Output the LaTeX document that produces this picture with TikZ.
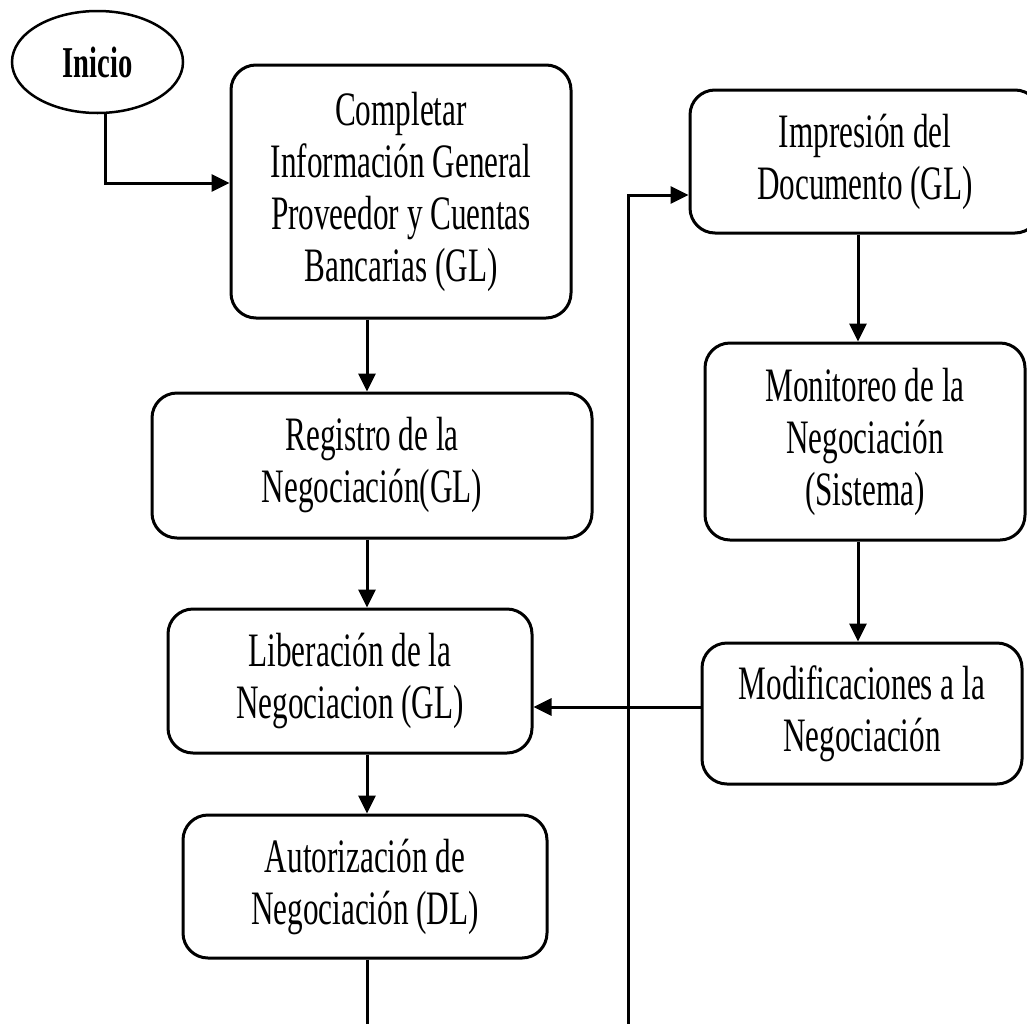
\documentclass[tikz,border=0pt]{standalone}
\usepackage{fontspec}
\setmainfont{Liberation Serif}[FakeStretch=0.65]
\usetikzlibrary{arrows.meta,shapes.geometric}
\begin{document}
\begin{tikzpicture}[x=1pt,y=-1pt,
  box/.style={draw,line width=3pt,rounded corners=25pt,align=center,inner sep=0pt,
    font=\fontsize{48}{52}\selectfont},
  arr/.style={line width=3pt,-{Triangle[length=18pt,width=17pt]}},
  ln/.style={line width=3pt}]
\path[use as bounding box,clip] (0,0) rectangle (1027,1023);
\fill[white] (0,0) rectangle (1027,1023);

\node[ellipse,draw,line width=2.5pt,minimum width=171pt,minimum height=102pt,inner sep=0pt,
  font=\fontsize{44}{48}\selectfont\bfseries] (ini) at (97.5,62) {Inicio};

\node[box,minimum width=340pt,minimum height=253pt] (b1) at (401,191.5)
  {Completar\\Información General\\Proveedor y Cuentas\\Bancarias (GL)};
\node[box,minimum width=440pt,minimum height=145pt] (b2) at (372,465.5)
  {Registro de la\\Negociación(GL)};
\node[box,minimum width=364pt,minimum height=144pt] (b3) at (350,681)
  {Liberación de la\\Negociacion (GL)};
\node[box,minimum width=364pt,minimum height=143pt] (b4) at (365,886.5)
  {Autorización de\\Negociación (DL)};

\node[box,minimum width=350pt,minimum height=143pt] (b5) at (865,161.5)
  {Impresión del\\Documento (GL)};
\node[box,minimum width=320pt,minimum height=197pt] (b6) at (865,441.5)
  {Monitoreo de la\\Negociación\\(Sistema)};
\node[box,minimum width=320pt,minimum height=141pt] (b7) at (862,713.5)
  {Modificaciones a la\\Negociación};

\coordinate (cx) at (367,0);
\coordinate (rx) at (858,0);
\coordinate (hy) at (0,707);
\coordinate (end1) at (367,1030);
\coordinate (end2) at (628,1030);

\draw[arr] ([xshift=8pt]ini.south) |- ([yshift=8.5pt]b1.west);
\draw[arr] (b1.south -| cx) -- (b2.north -| cx);
\draw[arr] (b2.south -| cx) -- (b3.north -| cx);
\draw[arr] (b3.south -| cx) -- (b4.north -| cx);
\draw[ln] (b4.south -| cx) -- (end1);
\draw[arr] (end2) |- ([yshift=-33.5pt]b5.west);
\draw[arr] (b5.south -| rx) -- (b6.north -| rx);
\draw[arr] (b6.south -| rx) -- (b7.north -| rx);
\draw[arr] (b7.west |- hy) -- (b3.east |- hy);
\end{tikzpicture}
\end{document}
